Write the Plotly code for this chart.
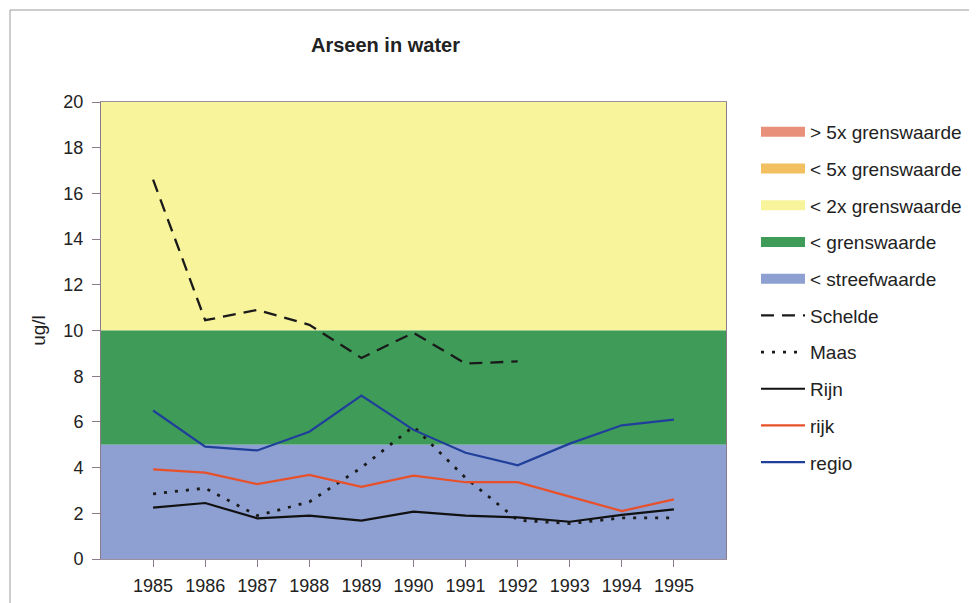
import plotly.graph_objects as go

years = [1985, 1986, 1987, 1988, 1989, 1990, 1991, 1992, 1993, 1994, 1995]
schelde = [16.6, 10.45, 10.9, 10.25, 8.8, 9.9, 8.55, 8.65, None, None, None]
maas = [2.85, 3.1, 1.9, 2.5, 4.0, 5.8, 3.55, 1.7, 1.55, 1.8, 1.8]
rijn = [2.25, 2.45, 1.78, 1.9, 1.68, 2.07, 1.9, 1.82, 1.63, 1.93, 2.17]
rijk = [3.92, 3.78, 3.28, 3.68, 3.16, 3.65, 3.36, 3.36, 2.73, 2.1, 2.61]
regio = [6.5, 4.92, 4.75, 5.57, 7.15, 5.65, 4.65, 4.1, 5.05, 5.85, 6.1]

band_names = ["> 5x grenswaarde", "< 5x grenswaarde", "< 2x grenswaarde", "< grenswaarde", "< streefwaarde"]
band_low = [50, 20, 10, 5, 0]
band_high = [100, 50, 20, 10, 5]
band_colors = ["#e8907a", "#f2c060", "#f7f49c", "#3f9c58", "#8e9fd2"]

x_lo, x_hi = 1984, 1996

# pixel layout of the plot area in the page (page body has an 8px offset)
OFF = 8
PL, PR, PT, PB = 101, 726, 102, 559
W, H = 977, 603
pw, ph = PR - PL, PB - PT


def px_x(x):
    return (x - PL) / pw


def px_y(y):
    return (PB - y) / ph


fig = go.Figure()
for i, (nm, lo, hi, col) in enumerate(zip(band_names, band_low, band_high, band_colors)):
    fig.add_trace(go.Scatter(
        x=[x_lo, x_hi, x_hi, x_lo, x_lo], y=[lo, lo, hi, hi, lo],
        mode="lines", fill="toself", fillcolor=col,
        line=dict(width=0, color=col), name=nm, legendgroup=f"g{i}",
        showlegend=False, hoverinfo="skip"))
    # legend swatch entry
    fig.add_trace(go.Scatter(
        x=[None], y=[None], mode="lines", name=nm, legendgroup=f"g{i}",
        line=dict(width=10, color=col), showlegend=True))

lines = [
    ("Schelde", schelde, "#1a1a1a", "13px,8px", 2.3),
    ("Maas", maas, "#1a1a1a", "3px,8px", 2.8),
    ("Rijn", rijn, "#111111", "solid", 2.2),
    ("rijk", rijk, "#e8502a", "solid", 2.2),
    ("regio", regio, "#1f3f9a", "solid", 2.2),
]
for j, (nm, vals, col, dash, w) in enumerate(lines):
    fig.add_trace(go.Scatter(
        x=years, y=vals, mode="lines", name=nm, legendgroup=f"l{j}",
        line=dict(color=col, dash=dash, width=w), connectgaps=False))

font_family = "Liberation Sans, Arial, sans-serif"
fig.update_layout(
    width=W, height=H,
    margin=dict(l=PL - OFF, r=W - PR + OFF, t=PT - OFF, b=H - PB + OFF),
    paper_bgcolor="white", plot_bgcolor="white",
    font=dict(family=font_family, size=18, color="#222222"),
    showlegend=True,
    legend=dict(
        x=px_x(756), xanchor="left", y=px_y(113), yanchor="top",
        traceorder="grouped", tracegroupgap=9,
        font=dict(size=19, color="#222222"),
        bgcolor="rgba(0,0,0,0)", itemwidth=44,
    ),
    annotations=[
        dict(text="<b>Arseen in water</b>", x=px_x(385), xref="paper",
             y=px_y(45), yref="paper", xanchor="center", yanchor="middle",
             showarrow=False, font=dict(size=20, color="#222222")),
    ],
)

fig.update_xaxes(
    range=[x_lo, x_hi], tickvals=years, ticktext=[str(y) for y in years],
    ticks="outside", ticklen=7, tickcolor="#8a7a8a",
    showgrid=False, zeroline=False,
    showline=True, linecolor="#9a8f9a", linewidth=1, mirror=True,
    tickfont=dict(size=18), ticklabelstandoff=3,
)
fig.update_yaxes(
    range=[0, 20], tickvals=list(range(0, 21, 2)),
    ticks="outside", ticklen=8, tickcolor="#8a7a8a",
    showgrid=False, zeroline=False,
    showline=True, linecolor="#8a7a8a", linewidth=1, mirror=True,
    tickfont=dict(size=18), ticklabelstandoff=5,
    title=dict(text="ug/l", font=dict(size=19), standoff=12),
)

# outer chart frame
fig.add_shape(type="line", xref="paper", yref="paper",
              x0=px_x(10), x1=px_x(1000), y0=px_y(10), y1=px_y(10),
              line=dict(color="#9a9a9a", width=1))
fig.add_shape(type="line", xref="paper", yref="paper",
              x0=px_x(10), x1=px_x(10), y0=px_y(10), y1=px_y(640),
              line=dict(color="#9a9a9a", width=1))

fig.write_html("out.html")
